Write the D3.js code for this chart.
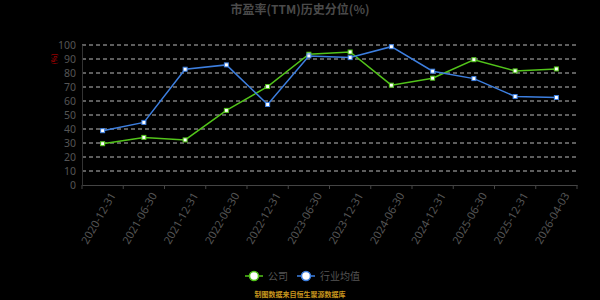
<!DOCTYPE html>
<meta charset="utf-8">
<script src="https://d3js.org/d3.v7.min.js"></script>
<style>
  body { margin: 0; background: #000; }
  text { font-family: "Noto Sans CJK SC", "Noto Sans", sans-serif; }
  .num text { font-family: "Noto Sans", "DejaVu Sans", sans-serif; }
</style>
<div id="chart"></div>
<script>
var dates = ["2020-12-31", "2021-06-30", "2021-12-31", "2022-06-30", "2022-12-31", "2023-06-30",
             "2023-12-31", "2024-06-30", "2024-12-31", "2025-06-30", "2025-12-31", "2026-04-03"];
var company = [29.5, 34, 32.2, 53.3, 70.3, 93.4, 95, 71.3, 76.3, 89.5, 81.5, 82.9];
var industry = [38.8, 44.7, 82.7, 85.8, 57.5, 92.2, 91, 98.8, 81.3, 76, 63.2, 62.5];
var yTicks = [0, 10, 20, 30, 40, 50, 60, 70, 80, 90, 100];

var W = 600, H = 300;
var margin = {top: 45, right: 23, bottom: 115, left: 82};
var width = W - margin.left - margin.right,
    height = H - margin.top - margin.bottom;

var svgRoot = d3.select("#chart").append("svg")
    .attr("width", W).attr("height", H)
    .style("background", "#000");

// title
svgRoot.append("text")
    .attr("x", W / 2).attr("y", 14)
    .attr("text-anchor", "middle")
    .attr("fill", "#4a4a4a")
    .style("font-size", "12px")
    .style("font-weight", "bold")
    .text("市盈率(TTM)历史分位(%)");

var svg = svgRoot.append("g")
    .attr("transform", "translate(" + margin.left + "," + margin.top + ")");

var x = d3.scaleBand().domain(dates).range([0, width]);
var y = d3.scaleLinear().domain([0, 100]).range([height, 0]);

// grid
svg.append("g").selectAll("line")
  .data(yTicks.filter(function(d) { return d > 0; }))
  .enter().append("line")
    .attr("x1", 0).attr("x2", width)
    .attr("y1", function(d) { return y(d); })
    .attr("y2", function(d) { return y(d); })
    .attr("stroke", "#bbb")
    .attr("stroke-width", 1)
    .attr("stroke-dasharray", "4,3");

// y axis
var yAxis = svg.append("g")
    .attr("class", "num")
    .call(d3.axisLeft(y).tickValues(yTicks).tickSize(0).tickPadding(6));
yAxis.select(".domain").attr("stroke", "#333");
yAxis.selectAll("text").attr("fill", "#555").style("font-size", "10.5px");

// x axis
var xAxis = svg.append("g")
    .attr("class", "num")
    .attr("transform", "translate(0," + height + ")")
    .call(d3.axisBottom(x).tickSize(4).tickSizeOuter(0));
xAxis.select(".domain").attr("stroke", "#444");
xAxis.selectAll(".tick line")
    .attr("stroke", "#444")
    .attr("transform", "translate(" + (x.bandwidth() / 2) + ",0)");
xAxis.selectAll("text")
    .attr("fill", "#555")
    .style("font-size", "11px")
    .attr("text-anchor", "end")
    .attr("dx", "-0.2em")
    .attr("dy", "0.9em")
    .attr("transform", "rotate(-60)");
// band edge tick at start
svg.append("line")
    .attr("x1", 0).attr("x2", 0)
    .attr("y1", height).attr("y2", height + 4)
    .attr("stroke", "#444");

// y axis name
svg.append("text")
    .attr("transform", "translate(-27," + y(90) + ") rotate(-90)")
    .attr("text-anchor", "middle")
    .attr("dy", "0.35em")
    .attr("fill", "#c00")
    .style("font-size", "7px")
    .text("(%)");

var series = [
  {name: "公司", values: company, color: "#52c41a"},
  {name: "行业均值", values: industry, color: "#3d7fe0"}
];

var line = d3.line()
    .x(function(d, i) { return x(dates[i]) + x.bandwidth() / 2; })
    .y(function(d) { return y(d); });

series.forEach(function(s) {
  svg.append("path")
      .datum(s.values)
      .attr("fill", "none")
      .attr("stroke", s.color)
      .attr("stroke-width", 1.5)
      .attr("d", line);
  svg.append("g").selectAll("rect")
    .data(s.values)
    .enter().append("rect")
      .attr("x", function(d, i) { return x(dates[i]) + x.bandwidth() / 2 - 2; })
      .attr("y", function(d) { return y(d) - 2; })
      .attr("width", 4).attr("height", 4)
      .attr("fill", "#fff")
      .attr("stroke", s.color)
      .attr("stroke-width", 1);
});

// legend
var legend = svgRoot.append("g").attr("transform", "translate(0,276)");
var lx = [245, 297];
series.forEach(function(s, i) {
  var g = legend.append("g").attr("transform", "translate(" + lx[i] + ",0)");
  g.append("line").attr("x1", 0).attr("x2", 18).attr("stroke", s.color).attr("stroke-width", 1.5);
  g.append("circle").attr("cx", 9).attr("r", 4.5)
      .attr("fill", "#fff").attr("stroke", s.color).attr("stroke-width", 1.5);
  g.append("text").attr("x", 23).attr("dy", "0.35em")
      .attr("fill", "#555").style("font-size", "10px").text(s.name);
});

// source note
svgRoot.append("text")
    .attr("x", W / 2).attr("y", 297)
    .attr("text-anchor", "middle")
    .attr("fill", "#c8961e")
    .style("font-size", "7px")
    .style("font-weight", "bold")
    .text("制图数据来自恒生聚源数据库");
</script>
